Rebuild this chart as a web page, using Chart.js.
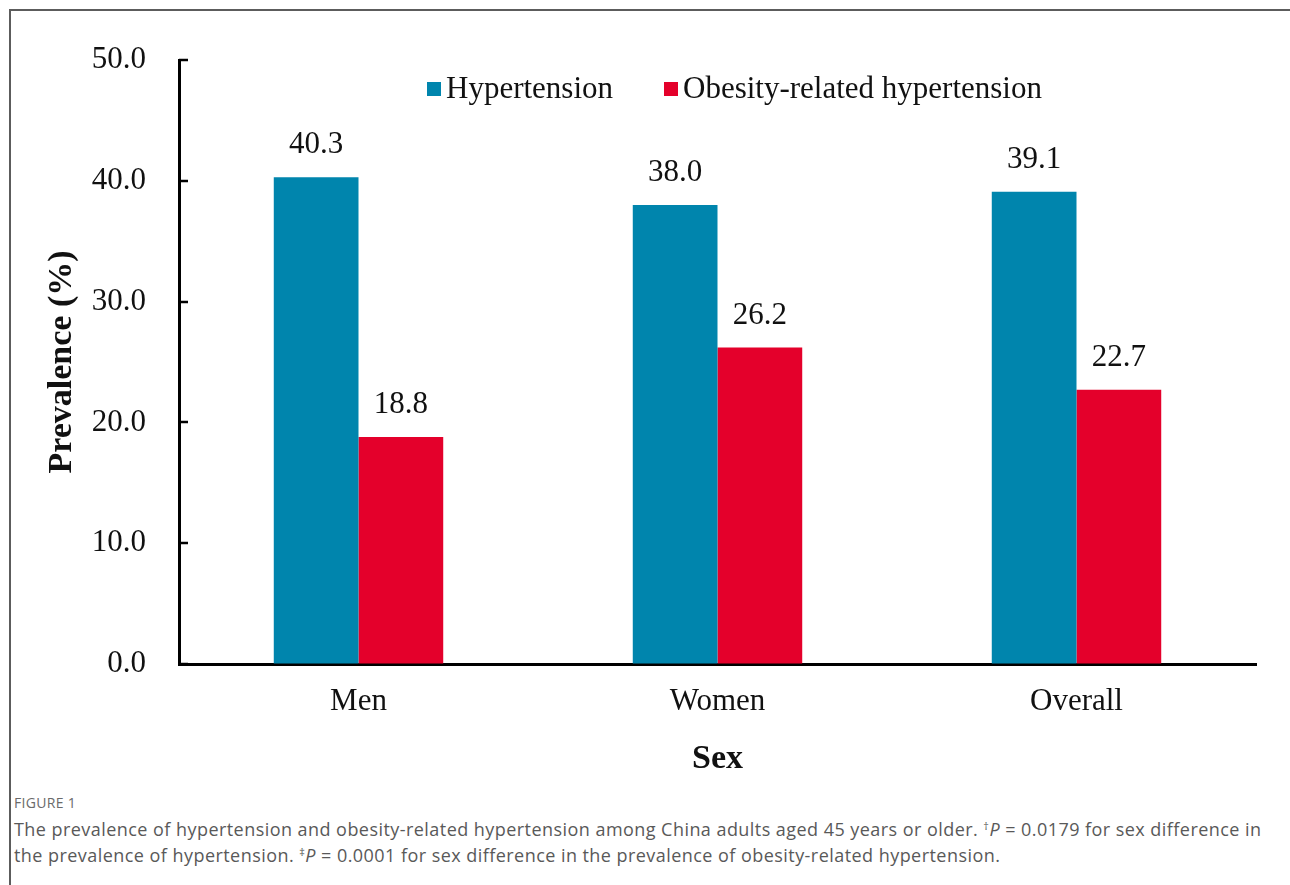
<!DOCTYPE html>
<html>
<head>
<meta charset="utf-8">
<script src="https://cdn.jsdelivr.net/npm/chart.js@4.4.1/dist/chart.umd.min.js"></script>
<style>
  html, body { margin: 0; padding: 0; background: #fff; overflow: hidden; }
  body { width: 1290px; height: 885px; position: relative; }
  .frame {
    position: absolute; left: 9px; top: 9px; width: 1400px; height: 1000px;
    border: 2px solid #5c5c5c; box-sizing: border-box;
  }
  .plot { position: absolute; left: 0; top: 0; width: 1290px; height: 780px; }
  .caption {
    position: absolute; left: 14px; top: 793px;
    font-family: "Open Sans", sans-serif; color: #595959;
  }
  .caption .fig { font-size: 14px; color: #6a6a6a; letter-spacing: 0.3px; margin-bottom: 4px; }
  .caption .line { font-size: 18px; line-height: 26px; letter-spacing: 0.45px; white-space: nowrap; }
  .caption i { font-style: italic; }
  .caption sup { font-size: 11px; vertical-align: 6px; line-height: 0; }
</style>
</head>
<body>
<div class="frame"></div>
<div class="plot"><canvas id="prevChart" width="1290" height="780"></canvas></div>
<div class="caption">
  <div class="fig">FIGURE 1</div>
  <div class="line">The prevalence of hypertension and obesity-related hypertension among China adults aged 45 years or older. <sup>†</sup><i>P</i> = 0.0179 for sex difference in</div>
  <div class="line">the prevalence of hypertension. <sup>‡</sup><i>P</i> = 0.0001 for sex difference in the prevalence of obesity-related hypertension.</div>
</div>
<script>
/* ─── Data ─────────────────────────────────────────────── */
const categories   = ['Men', 'Women', 'Overall'];
const seriesNames  = ['Hypertension', 'Obesity-related hypertension'];
const hypertension = [40.3, 38.0, 39.1];
const obesityHtn   = [18.8, 26.2, 22.7];
const yTicks       = [0, 10, 20, 30, 40, 50];

const BLUE  = '#0085ad';
const RED   = '#e4002b';
const SERIF = '"Liberation Serif", "Times New Roman", serif';

/* ─── Plugins: inward ticks, value labels, legend ─────── */
const inwardTicks = {
  id: 'inwardTicks',
  afterDraw(chart) {
    const { ctx } = chart;
    const y = chart.scales.y;
    ctx.save();
    ctx.strokeStyle = '#000';
    ctx.lineWidth = 2.5;
    yTicks.forEach(v => {
      const py = Math.round(y.getPixelForValue(v));
      ctx.beginPath();
      ctx.moveTo(y.right, py);
      ctx.lineTo(y.right + 9, py);
      ctx.stroke();
    });
    ctx.restore();
  }
};

const valueLabels = {
  id: 'valueLabels',
  afterDatasetsDraw(chart) {
    const { ctx } = chart;
    ctx.save();
    ctx.font = '31px ' + SERIF;
    ctx.fillStyle = '#111';
    ctx.textAlign = 'center';
    ctx.textBaseline = 'middle';
    chart.data.datasets.forEach((ds, i) => {
      chart.getDatasetMeta(i).data.forEach((bar, j) => {
        ctx.fillText(ds.data[j].toFixed(1), bar.x, bar.y - 32);
      });
    });
    ctx.restore();
  }
};

const topLegend = {
  id: 'topLegend',
  afterDraw(chart) {
    const { ctx, chartArea } = chart;
    const starts = [chartArea.left + 248, chartArea.left + 485];
    const cy = chartArea.top + 29;
    ctx.save();
    ctx.font = '31px ' + SERIF;
    ctx.textBaseline = 'middle';
    ctx.textAlign = 'left';
    chart.data.datasets.forEach((ds, i) => {
      const x = starts[i];
      ctx.fillStyle = ds.backgroundColor;
      ctx.fillRect(x, cy - 7, 14, 14);
      ctx.fillStyle = '#111';
      ctx.fillText(ds.label, x + 19, cy + 1);
    });
    ctx.restore();
  }
};

/* ─── Chart ────────────────────────────────────────────── */
new Chart(document.getElementById('prevChart'), {
  type: 'bar',
  data: {
    labels: categories,
    datasets: [
      { label: seriesNames[0], data: hypertension, backgroundColor: BLUE },
      { label: seriesNames[1], data: obesityHtn,   backgroundColor: RED }
    ]
  },
  options: {
    responsive: false,
    animation: false,
    devicePixelRatio: 1,
    categoryPercentage: 0.472,
    barPercentage: 1.0,
    layout: { padding: { top: 60, right: 34, left: 0, bottom: 0 } },
    plugins: {
      legend: { display: false },
      tooltip: { enabled: false }
    },
    scales: {
      x: {
        grid: { display: true, drawOnChartArea: false, drawTicks: false },
        border: { color: '#000', width: 3 },
        ticks: { color: '#111', font: { family: SERIF, size: 31 }, padding: 19 },
        title: {
          display: true, text: 'Sex', color: '#111',
          font: { family: SERIF, size: 34, weight: 'bold' },
          padding: { top: 7, bottom: 0 }
        },
        afterFit(scale) { scale.height = 116; }
      },
      y: {
        min: 0, max: 50,
        grid: { display: true, drawOnChartArea: false, drawTicks: false },
        border: { color: '#000', width: 3 },
        afterBuildTicks(scale) { scale.ticks = yTicks.map(v => ({ value: v })); },
        ticks: {
          color: '#111', font: { family: SERIF, size: 31 }, padding: 33,
          callback: v => v.toFixed(1)
        },
        title: {
          display: true, text: 'Prevalence (%)', color: '#111',
          font: { family: SERIF, size: 34, weight: 'bold' },
          padding: { top: 42, bottom: 0 }
        },
        afterFit(scale) { scale.width = 179; }
      }
    }
  },
  plugins: [inwardTicks, valueLabels, topLegend]
});
</script>
</body>
</html>
